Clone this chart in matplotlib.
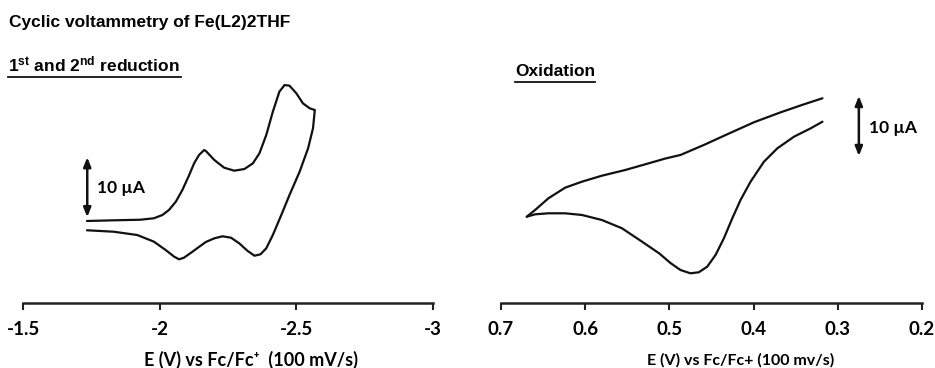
import matplotlib
matplotlib.use("Agg")
import matplotlib.pyplot as plt
from matplotlib.lines import Line2D

plt.rcParams['mathtext.fontset'] = 'custom'
plt.rcParams['mathtext.rm'] = 'Liberation Sans:bold'
plt.rcParams['mathtext.bf'] = 'Liberation Sans:bold'
plt.rcParams['mathtext.it'] = 'Liberation Sans:bold'

# ---- Reduction CV (E in V vs Fc/Fc+, I in uA, arbitrary offset) ----
red_fwd_E = [-1.734, -1.832, -1.930, -1.979, -2.010, -2.034, -2.059, -2.083, -2.108,
             -2.126, -2.144, -2.163, -2.169, -2.200, -2.236, -2.273, -2.310, -2.341,
             -2.365, -2.390, -2.414, -2.438, -2.457, -2.475, -2.500, -2.524, -2.549,
             -2.567]
red_fwd_I = [13.67, 13.78, 13.88, 14.12, 14.67, 15.5, 16.88, 18.83, 21.33,
             23.28, 24.67, 25.5, 25.33, 23.83, 22.55, 22.05, 22.33, 23.28,
             24.95, 28.0, 31.88, 35.22, 36.33, 36.22, 34.95, 33.28, 32.45,
             32.17]
red_rev_E = [-2.567, -2.567, -2.561, -2.543, -2.512, -2.475, -2.445, -2.414, -2.390,
             -2.369, -2.347, -2.322, -2.291, -2.261, -2.230, -2.200, -2.169, -2.151,
             -2.120, -2.089, -2.071, -2.053, -2.022, -1.979, -1.918, -1.832, -1.734]
red_rev_I = [32.17, 31.88, 29.12, 25.78, 21.88, 18.0, 14.67, 11.33, 9.12,
             8.12, 7.88, 8.67, 9.95, 10.88, 11.12, 10.78, 10.17, 9.58,
             8.55, 7.55, 7.28, 7.72, 8.83, 10.22, 11.33, 11.88, 12.12]

# ---- Oxidation CV ----
ox_up_E = [0.6694, 0.6595, 0.6437, 0.6238, 0.6039, 0.5801, 0.5524, 0.5246, 0.5048,
           0.4869, 0.4592, 0.4313, 0.3996, 0.3679, 0.3401, 0.3182]
ox_up_I = [14.38, 15.5, 17.45, 19.22, 20.22, 21.22, 22.17, 23.28, 24.08,
           24.67, 26.33, 28.12, 30.12, 31.78, 33.12, 34.12]
ox_lo_E = [0.6694, 0.6595, 0.6437, 0.6238, 0.6039, 0.5801, 0.5563, 0.5325, 0.5119,
           0.4988, 0.4869, 0.4750, 0.4651, 0.4551, 0.4452, 0.4353, 0.4253, 0.4155,
           0.4036, 0.3877, 0.3718, 0.3520, 0.3321, 0.3182]
ox_lo_I = [14.38, 14.78, 14.95, 14.95, 14.67, 13.83, 12.45, 10.22, 8.25,
           6.67, 5.5, 4.95, 5.12, 6.05, 8.0, 10.78, 14.12, 17.17,
           20.22, 23.55, 25.78, 27.72, 29.12, 30.22]

red_ticks = [-1.5, -2, -2.5, -3]
red_ticklabels = ['-1.5', '-2', '-2.5', '-3']
ox_ticks = [0.7, 0.6, 0.5, 0.4, 0.3, 0.2]
ox_ticklabels = ['0.7', '0.6', '0.5', '0.4', '0.3', '0.2']
scale_bar = 10  # uA

W, H = 935, 368
fig = plt.figure(figsize=(W / 100, H / 100), dpi=100)

def px_axes(x0, x1, ytop, ybot):
    return fig.add_axes([x0 / W, 1 - ybot / H, (x1 - x0) / W, (ybot - ytop) / H])

FAM = ['Lato', 'DejaVu Sans']
tick_font = dict(family=FAM, weight='bold', size=13.5)
lw = 1.6
col = '#111111'
line_kw = dict(color=col, lw=lw, solid_capstyle='round', solid_joinstyle='round')

def style(ax, ticks, labels, xlim):
    ax.set_xlim(*xlim)
    ax.set_ylim(0, 243 / 6)
    for s in ['top', 'right', 'left']:
        ax.spines[s].set_visible(False)
    ax.spines['bottom'].set_linewidth(1.8)
    ax.spines['bottom'].set_color('#222222')
    ax.set_yticks([])
    ax.set_xticks(ticks)
    ax.set_xticklabels(labels, fontdict=tick_font)
    ax.tick_params(axis='x', direction='out', length=5, width=1.5, color='#222222', pad=8)
    ax.patch.set_alpha(0)

arrow_kw = dict(arrowstyle='<|-|>,head_length=0.55,head_width=0.22', color=col, lw=1.8,
                shrinkA=0, shrinkB=0)

ax1 = px_axes(23, 433, 60, 303)
style(ax1, red_ticks, red_ticklabels, (-1.5, -3))
ax1.plot(red_fwd_E, red_fwd_I, **line_kw)
ax1.plot(red_rev_E, red_rev_I, **line_kw)
ax1.annotate('', xy=(-1.735, 24.3), xytext=(-1.735, 24.3 - scale_bar), arrowprops=arrow_kw)
ax1.text(-1.772, 19.2, '10 µA', ha='left', va='center', family=FAM, weight='bold', size=12.5)

ax2 = px_axes(501, 922, 60, 303)
style(ax2, ox_ticks, ox_ticklabels, (0.7, 0.2))
ax2.plot(ox_up_E, ox_up_I, **line_kw)
ax2.plot(ox_lo_E, ox_lo_I, **line_kw)
ax2.annotate('', xy=(0.275, 34.5), xytext=(0.275, 34.5 - scale_bar), arrowprops=arrow_kw)
ax2.text(0.263, 29.2, '10 µA', ha='left', va='center', family=FAM, weight='bold', size=12.5)

# axis labels
fig.text(251 / W, 1 - 360 / H, 'E (V) vs Fc/Fc\u207a  (100 mV/s)', ha='center', va='center',
         family=FAM, weight='bold', size=13)
fig.text(741 / W, 1 - 360 / H, 'E (V) vs Fc/Fc+ (100 mv/s)', ha='center', va='center',
         family=FAM, weight='bold', size=11.5)

# titles
fig.text(9 / W, 1 - 22 / H, 'Cyclic voltammetry of Fe(L2)2THF', ha='left', va='center',
         family='Liberation Sans', weight='bold', size=12.5)
fig.text(8 / W, 1 - 64 / H, r'1$^{\mathrm{st}}$ and 2$^{\mathrm{nd}}$ reduction', ha='left',
         va='center', family='Liberation Sans', weight='bold', size=12.5)
fig.add_artist(Line2D([8 / W, 181 / W], [1 - 77 / H, 1 - 77 / H], color=col, lw=1.3))
fig.text(515 / W, 1 - 72 / H, 'Oxidation', ha='left', va='center',
         family='Liberation Sans', weight='bold', size=12.5)
fig.add_artist(Line2D([515 / W, 595 / W], [1 - 82 / H, 1 - 82 / H], color=col, lw=1.3))

fig.savefig('out.png', dpi=100)
